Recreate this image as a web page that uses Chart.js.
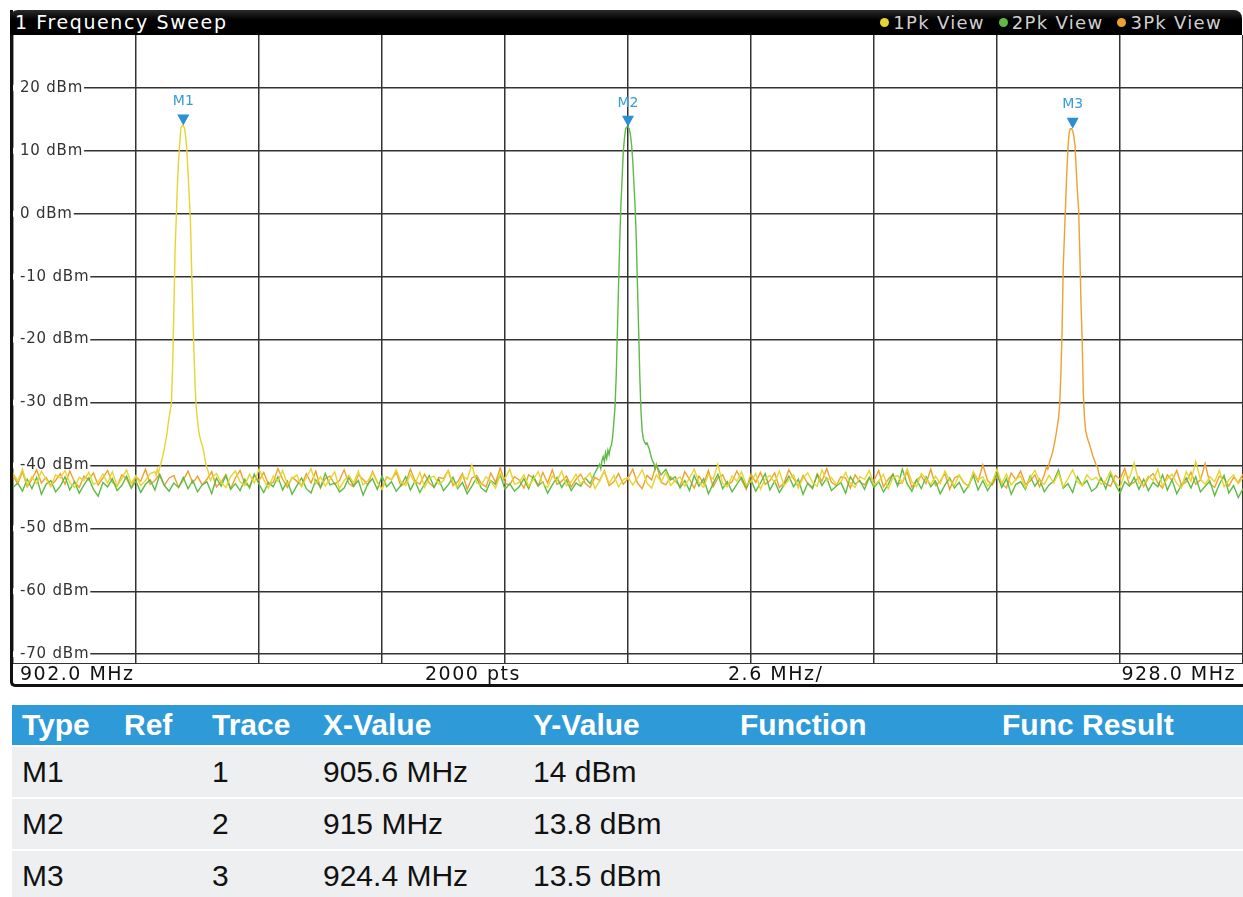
<!DOCTYPE html>
<html>
<head>
<meta charset="utf-8">
<title>1 Frequency Sweep</title>
<script src="https://cdn.jsdelivr.net/npm/chart.js@4.4.1/dist/chart.umd.min.js"></script>
<style>
  body { margin: 0; background: #fff; width: 1243px; height: 897px; overflow: hidden; position: relative; font-family: "DejaVu Sans", sans-serif; }
  #frame { position: absolute; left: 10px; top: 10px; width: 1230px; height: 674px; border-left: 3px solid #111; border-bottom: 3px solid #111; border-bottom-left-radius: 5px; }
  #titlebar { position: absolute; left: 10px; top: 10px; width: 1232px; height: 25px; background: linear-gradient(#2a2a2a, #000 40%); border-radius: 8px 8px 0 0; color: #fff; }
  #title { position: absolute; left: 5px; top: 0; line-height: 25px; font-size: 19px; letter-spacing: 1.6px; }
  #legend { position: absolute; right: 20px; top: 0; line-height: 25px; font-size: 18px; letter-spacing: 1.3px; color: #d0d0d0; display: flex; gap: 14px; }
  #legend span.dot { display: inline-block; width: 9px; height: 9px; border-radius: 50%; margin-right: 4px; vertical-align: 2px; }
  #plot { position: absolute; left: 13px; top: 35px; width: 1230px; height: 628px; }
  #footer { position: absolute; left: 13px; top: 663px; width: 1230px; height: 21px; border-top: 1.5px solid #333; box-sizing: border-box; font-size: 19px; letter-spacing: 1.5px; color: #111; }
  #footer div { position: absolute; top: -1px; line-height: 21px; white-space: nowrap; }
  #markers { position: absolute; left: 12px; top: 705px; width: 1231px; border-collapse: collapse; font-family: "Liberation Sans", Arial, sans-serif; font-size: 30px; table-layout: fixed; }
  #markers th { background: #2e9ad7; color: #fff; font-weight: bold; text-align: left; height: 40px; padding: 0 0 0 10px; }
  #markers td { background: #eeeff1; color: #111; height: 50px; padding: 0 0 0 10px; border-top: 2px solid #fff; }
</style>
</head>
<body>
<div id="frame"></div>
<div id="titlebar"><div id="title">1 Frequency Sweep</div><div id="legend"></div></div>
<div id="plot"><canvas id="sweep"></canvas></div>
<div id="footer"></div>
<table id="markers">
  <colgroup><col style="width:102px"><col style="width:88px"><col style="width:111px"><col style="width:210px"><col style="width:207px"><col style="width:262px"><col></colgroup>
  <thead><tr id="markerHead"></tr></thead>
  <tbody id="markerBody"></tbody>
</table>
<script>
// sweep settings
const startMHz = 902.0;
const stopMHz = 928.0;
const spanPerDiv = 2.6;
const sweepPoints = 2000;
const levelTicks = [20, 10, 0, -10, -20, -30, -40, -50, -60, -70];
const traceNames = ['1Pk View', '2Pk View', '3Pk View'];
const traceColors = ['#e6d531', '#5dbb46', '#efa02e'];

// markers
const markerNames = ['M1', 'M2', 'M3'];
const markerTrace = [1, 2, 3];
const markerFreq = [905.6, 915, 924.4];
const markerLevel = [14, 13.8, 13.5];
const tableColumns = ['Type', 'Ref', 'Trace', 'X-Value', 'Y-Value', 'Function', 'Func Result'];

// noise floor, one value every 0.1 MHz from 902.0 to 928.0 (dBm)
const floorStep = 0.1;
const trace1Floor = [
  -41.2,-42.5,-40.6,-43.1,-41.8,-42.9,-40.9,-42.2,-43.4,-41.5,-42.0,-40.8,-42.7,-43.5,-41.9,-42.4,-41.1,-43.0,-42.6,-41.4,
  -42.8,-41.0,-43.3,-42.1,-40.7,-42.9,-41.6,-43.2,-42.4,-41.3,-42.0,-41.7,-42.5,-41.9,-42.3,-41.8,-42.2,-41.5,-42.6,-41.9,
  -42.4,-41.6,-42.9,-41.3,-42.7,-43.5,-41.8,-40.9,-42.6,-43.2,-41.4,-42.8,-40.6,-42.3,-43.6,-41.7,-42.5,-40.8,-43.0,-42.1,
  -41.5,-43.4,-42.0,-40.5,-42.9,-41.8,-43.3,-42.2,-41.0,-43.7,-42.4,-41.6,-42.8,-40.9,-43.1,-42.5,-41.2,-42.7,-43.8,-41.9,
  -42.3,-40.7,-42.6,-43.2,-41.4,-42.9,-41.1,-43.5,-42.0,-41.7,-43.0,-42.4,-40.8,-42.7,-43.4,-41.6,-42.2,-39.9,-42.8,-43.1,
  -41.8,-42.5,-43.6,-41.3,-42.1,-40.6,-43.0,-42.7,-41.5,-43.3,-42.2,-41.0,-42.9,-43.5,-41.7,-42.4,-40.9,-43.2,-42.6,-41.4,
  -43.0,-42.1,-41.2,-43.7,-42.5,-40.8,-42.9,-41.6,-43.4,-42.3,-41.9,-43.1,-42.0,-40.7,-42.8,-43.6,-41.5,-42.6,-41.1,-43.2,
  -42.4,-41.8,-43.3,-42.0,-40.6,-42.7,-43.5,-41.4,-42.2,-39.8,-42.9,-43.4,-41.7,-42.5,-41.0,-43.1,-42.6,-41.3,-43.8,-42.1,
  -41.6,-42.8,-40.9,-43.2,-42.3,-41.5,-43.6,-42.0,-41.2,-42.7,-43.3,-40.7,-42.4,-41.9,-43.0,-42.6,-41.1,-42.9,-43.5,-41.8,
  -42.2,-40.8,-43.1,-42.5,-41.4,-43.7,-42.0,-41.6,-42.8,-40.5,-42.6,-43.4,-41.3,-42.1,-43.0,-41.7,-42.9,-40.9,-42.4,-43.2,
  -41.5,-42.7,-43.5,-41.0,-42.3,-41.8,-43.3,-42.6,-40.6,-42.9,-41.4,-43.1,-42.2,-41.7,-43.6,-42.0,-40.8,-42.5,-43.0,-41.6,
  -42.8,-41.2,-43.4,-42.1,-40.7,-42.6,-43.2,-41.5,-42.3,-41.9,-43.0,-42.4,-40.9,-42.7,-43.5,-41.3,-42.0,-39.6,-42.8,-43.1,
  -41.7,-42.4,-40.6,-43.3,-42.1,-41.4,-42.9,-43.6,-41.0,-42.5,-39.4,-42.2,-43.0,-41.8,-42.6,-40.8,-43.4,-42.3,-41.5,-42.9,
  -42.0
];
const trace2Floor = [
  -43.5,-42.8,-44.1,-42.2,-43.7,-41.9,-44.6,-43.0,-42.4,-44.2,-43.3,-41.8,-43.9,-42.6,-44.4,-43.1,-42.0,-43.8,-44.9,-42.7,
  -43.4,-42.1,-44.0,-43.2,-41.7,-43.6,-42.5,-44.3,-43.0,-42.3,-43.9,-41.5,-43.2,-44.1,-42.8,-43.5,-41.9,-43.7,-42.4,-44.2,
  -43.1,-42.6,-44.5,-42.0,-43.3,-41.6,-43.8,-42.9,-44.0,-42.2,-43.6,-41.4,-43.0,-44.3,-42.7,-43.4,-41.8,-43.9,-42.5,-44.6,
  -43.2,-42.0,-43.7,-44.4,-42.3,-43.5,-41.3,-43.1,-42.8,-44.2,-43.6,-41.9,-43.3,-42.4,-44.7,-43.0,-42.1,-43.8,-41.7,-43.4,
  -42.6,-44.1,-43.2,-41.8,-43.9,-42.5,-44.3,-42.9,-41.6,-43.5,-42.2,-44.0,-43.1,-41.9,-43.7,-42.7,-44.5,-43.3,-42.0,-43.6,
  -44.2,-42.4,-43.0,-41.5,-43.8,-42.9,-44.1,-43.4,-42.1,-43.7,-41.7,-43.2,-42.6,-44.4,-43.1,-41.9,-43.5,-42.3,-44.0,-42.8,
  -43.3,-42.0,-42.9,-41.2,-42.6,-43.1,-42.4,-43.0,-42.7,-42.2,-42.8,-43.3,-42.5,-42.9,-42.1,-43.2,-42.6,-41.5,-40.6,-42.3,
  -41.8,-43.6,-42.4,-44.0,-41.6,-43.3,-42.1,-44.5,-42.9,-41.4,-43.7,-42.6,-44.2,-43.0,-41.9,-43.5,-42.3,-44.1,-42.8,-41.3,
  -43.9,-42.5,-44.3,-43.1,-41.7,-43.4,-42.2,-44.6,-42.8,-43.6,-41.5,-43.2,-42.0,-44.0,-43.3,-42.7,-44.4,-41.8,-43.0,-42.4,
  -43.8,-41.9,-43.5,-42.6,-44.2,-43.0,-41.4,-43.3,-40.6,-42.9,-44.1,-42.3,-43.7,-41.8,-43.4,-42.5,-44.5,-43.1,-42.0,-43.6,
  -42.7,-44.3,-43.2,-41.6,-43.9,-42.4,-44.0,-42.8,-41.3,-43.5,-42.1,-44.6,-43.0,-42.6,-43.8,-41.7,-43.3,-42.2,-44.2,-43.1,
  -42.5,-40.7,-43.6,-42.9,-44.3,-41.8,-43.2,-42.4,-44.1,-43.5,-42.0,-43.7,-41.4,-43.0,-44.4,-42.6,-43.3,-41.9,-43.8,-42.2,
  -44.0,-42.7,-43.4,-41.5,-43.9,-42.3,-44.5,-43.1,-42.0,-43.6,-41.8,-44.2,-43.3,-42.5,-44.8,-43.0,-41.6,-44.4,-43.2,-45.1,
  -43.7
];
const trace3Floor = [
  -41.6,-42.9,-41.0,-43.4,-42.2,-40.7,-42.8,-41.9,-43.2,-42.4,-41.3,-43.0,-40.9,-42.6,-43.5,-41.7,-42.3,-41.2,-43.1,-42.0,
  -40.8,-42.7,-43.3,-41.5,-42.1,-43.6,-41.8,-42.5,-40.6,-43.0,-42.4,-41.4,-43.2,-42.0,-41.6,-43.5,-42.3,-40.9,-42.8,-41.7,
  -43.1,-42.2,-41.0,-43.4,-42.6,-41.5,-43.7,-42.0,-40.8,-42.9,-43.3,-41.6,-42.4,-41.1,-43.0,-42.7,-40.5,-42.2,-43.5,-41.9,
  -42.5,-43.2,-41.3,-42.8,-40.9,-43.6,-42.1,-41.7,-43.0,-42.4,-40.7,-42.9,-43.4,-41.5,-42.2,-43.1,-41.0,-42.6,-43.7,-41.8,
  -42.3,-41.1,-43.3,-42.7,-40.6,-42.5,-43.0,-41.4,-42.8,-43.5,-41.9,-42.1,-40.8,-43.2,-42.6,-41.3,-43.8,-42.0,-41.6,-42.9,
  -43.4,-41.2,-42.7,-40.4,-42.9,-43.1,-41.8,-42.3,-43.6,-41.5,-42.0,-43.3,-41.1,-42.8,-40.7,-43.0,-42.5,-41.7,-43.4,-42.2,
  -41.4,-42.9,-43.5,-41.9,-42.4,-40.9,-43.2,-42.6,-41.3,-43.0,-42.1,-40.6,-42.8,-43.7,-41.6,-42.3,-39.8,-42.7,-43.1,-41.8,
  -42.5,-43.3,-41.0,-42.2,-43.6,-41.7,-42.9,-40.8,-43.4,-42.0,-41.5,-43.1,-42.6,-40.9,-42.3,-43.8,-41.4,-42.7,-41.1,-43.0,
  -42.4,-41.2,-43.5,-42.8,-40.7,-42.1,-43.3,-41.6,-42.9,-43.7,-41.3,-42.5,-40.5,-42.7,-43.2,-41.8,-42.0,-43.6,-41.5,-42.6,
  -43.1,-41.9,-42.4,-40.8,-43.4,-42.2,-41.4,-43.0,-42.7,-41.0,-43.5,-42.3,-41.7,-42.9,-40.6,-43.2,-42.5,-41.3,-43.8,-42.0,
  -41.6,-42.8,-43.3,-41.1,-42.6,-39.9,-42.4,-43.1,-41.8,-42.9,-43.6,-41.2,-42.3,-40.9,-43.0,-42.5,-41.5,-43.4,-42.1,-40.7,
  -42.8,-43.2,-41.4,-42.6,-43.5,-41.9,-42.3,-41.7,-43.0,-42.4,-41.1,-42.9,-43.3,-41.6,-42.2,-40.5,-43.1,-42.7,-41.8,-43.4,
  -42.0,-41.3,-42.8,-43.6,-41.5,-42.4,-40.8,-43.2,-42.6,-41.1,-43.0,-42.3,-39.7,-42.9,-43.5,-41.7,-42.1,-43.3,-41.9,-42.7,
  -41.4
];

// carrier shapes, every 0.025 MHz from 0.6 MHz below to 0.6 MHz above each marker (dBm)
const peakStep = 0.025;
const peakHalfSpan = 0.6;
const trace1Peak = [
  -41.0,-41.6,-40.6,-41.2,-40.4,-39.7,-39.0,-38.2,-37.3,-36.2,-35.2,-33.7,-32.4,-31.2,-30.0,-24.0,-15.5,-6.0,-0.8,4.5,8.5,11.3,13.7,14.0,
  14.0,
  13.6,12.3,10.0,6.5,2.8,-1.0,-8.5,-15.5,-22.0,-27.5,-31.0,-32.8,-34.5,-35.5,-36.2,-36.8,-37.6,-38.6,-39.7,-40.4,-40.9,-41.9,-42.4,-42.0
];
const trace2Peak = [
  -39.8,-40.5,-39.2,-38.6,-39.4,-38.0,-38.9,-37.6,-38.3,-37.2,-36.8,-35.5,-33.2,-30.8,-26.0,-19.0,-11.5,-4.5,1.5,5.5,9.8,12.0,13.5,13.8,
  13.8,
  13.5,12.6,11.0,8.5,4.8,1.2,-4.0,-11.5,-18.5,-26.0,-31.5,-34.5,-35.8,-36.3,-36.6,-36.4,-36.9,-37.4,-38.2,-38.9,-39.4,-39.7,-40.6,-40.0
];
const trace3Peak = [
  -41.5,-40.8,-40.2,-40.6,-39.8,-39.1,-38.6,-37.9,-37.0,-36.1,-35.0,-33.8,-32.5,-30.5,-25.5,-19.0,-8.5,-3.5,1.5,6.5,10.5,12.8,13.5,13.5,
  13.2,
  12.3,10.8,7.0,3.5,0.8,-6.0,-14.0,-20.0,-28.5,-32.5,-34.5,-35.3,-36.0,-36.5,-37.2,-37.8,-38.5,-39.0,-39.5,-40.0,-40.3,-41.2,-41.8,-42.3
];

const markerBlue = '#2b8fd4';

// floor points outside the carrier window, plus the carrier points
function buildTrace(floor, peak, center) {
  const pts = [];
  floor.forEach((v, i) => {
    const f = startMHz + i * floorStep;
    if (Math.abs(f - center) > peakHalfSpan + 0.001) pts.push({ x: f, y: v });
  });
  peak.forEach((v, i) => pts.push({ x: center - peakHalfSpan + i * peakStep, y: v }));
  return pts.sort((a, b) => a.x - b.x);
}

const traces = [
  buildTrace(trace1Floor, trace1Peak, markerFreq[0]),
  buildTrace(trace2Floor, trace2Peak, markerFreq[1]),
  buildTrace(trace3Floor, trace3Peak, markerFreq[2])
];

// level labels sit inside the plot, the grid line starts after them
const levelLabels = {
  id: 'levelLabels',
  beforeDatasetsDraw(chart) {
    const { ctx, chartArea, scales: { y } } = chart;
    ctx.save();
    ctx.font = '15px "DejaVu Sans"';
    ctx.letterSpacing = '0.8px';
    ctx.textBaseline = 'middle';
    levelTicks.forEach(v => {
      const py = y.getPixelForValue(v);
      const text = v + ' dBm';
      const w = ctx.measureText(text).width;
      ctx.fillStyle = '#fff';
      ctx.fillRect(chartArea.left, py - 3, w + 8, 6);
      ctx.fillStyle = '#333';
      ctx.fillText(text, chartArea.left + 7, py);
    });
    ctx.restore();
  }
};

// marker triangles and names over the traces
const markerDraw = {
  id: 'markerDraw',
  afterDatasetsDraw(chart) {
    const { ctx, scales: { x, y } } = chart;
    ctx.save();
    markerFreq.forEach((f, i) => {
      const px = x.getPixelForValue(f);
      const py = y.getPixelForValue(markerLevel[i]);
      ctx.fillStyle = markerBlue;
      ctx.beginPath();
      ctx.moveTo(px - 6, py - 11);
      ctx.lineTo(px + 6, py - 11);
      ctx.lineTo(px, py);
      ctx.closePath();
      ctx.fill();
      ctx.fillStyle = '#3a9ad9';
      ctx.font = '14px "DejaVu Sans"';
      ctx.textAlign = 'center';
      ctx.textBaseline = 'middle';
      ctx.fillText(markerNames[i], px, py - 24);
    });
    ctx.restore();
  }
};

const gridStyle = { color: '#333', lineWidth: 1.5, drawTicks: false };

new Chart(document.getElementById('sweep'), {
  type: 'line',
  data: {
    datasets: traces.map((pts, i) => ({
      label: traceNames[i],
      data: pts,
      borderColor: traceColors[i],
      borderWidth: 1.4,
      pointRadius: 0,
      tension: 0,
      fill: false
    }))
  },
  options: {
    responsive: true,
    maintainAspectRatio: false,
    animation: false,
    layout: { padding: 0 },
    plugins: { legend: { display: false }, tooltip: { enabled: false } },
    scales: {
      x: {
        type: 'linear',
        min: startMHz,
        max: stopMHz,
        grid: gridStyle,
        border: { display: false },
        ticks: { display: false },
        afterBuildTicks: scale => {
          const ticks = [];
          for (let k = 0; k <= 10; k++) ticks.push({ value: startMHz + k * spanPerDiv });
          scale.ticks = ticks;
        }
      },
      y: {
        min: -71.4,
        max: 28.4,
        grid: gridStyle,
        border: { display: false },
        ticks: { display: false },
        afterBuildTicks: scale => { scale.ticks = levelTicks.map(v => ({ value: v })); }
      }
    }
  },
  plugins: [levelLabels, markerDraw]
});

// legend in the title bar
const legend = document.getElementById('legend');
traceNames.forEach((name, i) => {
  const item = document.createElement('div');
  item.innerHTML = '<span class="dot" style="background:' + traceColors[i] + '"></span>' + name;
  legend.appendChild(item);
});

// footer: start, points, span per division, stop
const footer = document.getElementById('footer');
[
  [startMHz.toFixed(1) + ' MHz', 'left:7px'],
  [sweepPoints + ' pts', 'left:412px'],
  [spanPerDiv + ' MHz/', 'left:715px'],
  [stopMHz.toFixed(1) + ' MHz', 'right:7px']
].forEach(([text, pos]) => {
  const d = document.createElement('div');
  d.textContent = text;
  d.style.cssText = pos;
  footer.appendChild(d);
});

// marker table
const head = document.getElementById('markerHead');
tableColumns.forEach(c => {
  const th = document.createElement('th');
  th.textContent = c;
  head.appendChild(th);
});
const body = document.getElementById('markerBody');
markerNames.forEach((m, i) => {
  const row = [m, '', markerTrace[i], markerFreq[i] + ' MHz', markerLevel[i] + ' dBm', '', ''];
  const tr = document.createElement('tr');
  row.forEach(v => {
    const td = document.createElement('td');
    td.textContent = v;
    tr.appendChild(td);
  });
  body.appendChild(tr);
});
</script>
</body>
</html>
